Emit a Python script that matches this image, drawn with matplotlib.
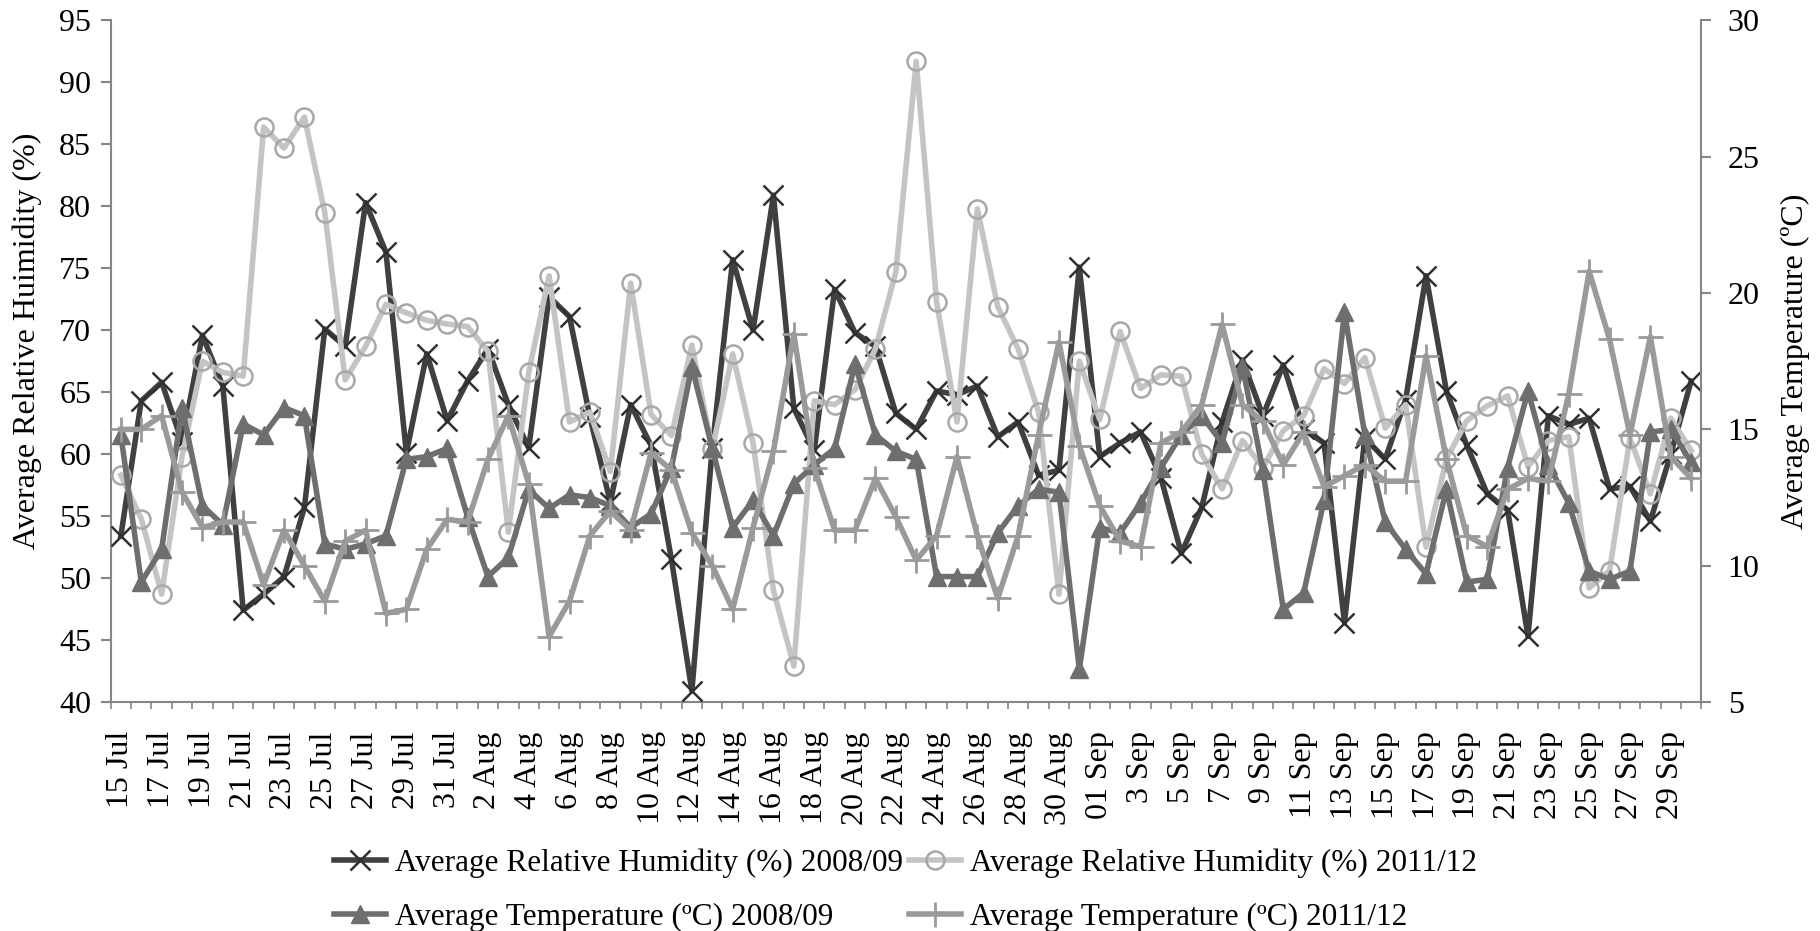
"""
Daily average relative humidity and temperature, 2008/09 vs 2011/12.
"""
import matplotlib
matplotlib.use("Agg")
import matplotlib.pyplot as plt
import numpy as np

plt.rcParams["font.family"] = ["Liberation Serif", "DejaVu Serif"]
plt.rcParams["font.size"] = 23

# categories: 15 Jul .. 30 Sep
days = ([f"{d} Jul" for d in range(15, 32)]
        + [f"{d} Aug" for d in range(1, 32)]
        + ["01 Sep"]
        + [f"{d} Sep" for d in range(2, 31)])

rh_0809 = [53.4, 64.3, 65.8, 61.0, 69.6, 65.5, 47.4, 48.7, 50.1, 55.7,
           70.1, 68.7, 80.3, 76.3, 60.1, 68.1, 62.7, 65.9, 68.5, 64.0,
           60.5, 72.7, 71.1, 63.0, 56.1, 64.0, 60.7, 51.5, 40.9, 60.5,
           75.7, 70.0, 80.9, 63.7, 60.3, 73.3, 69.8, 68.7, 63.3, 62.0,
           65.1, 64.8, 65.5, 61.4, 62.6, 58.3, 58.7, 75.1, 59.8, 60.9,
           61.8, 58.1, 52.0, 55.7, 62.6, 67.6, 63.1, 67.2, 62.0, 60.9,
           46.4, 61.3, 59.6, 64.4, 74.4, 65.1, 60.7, 56.8, 55.5, 45.3,
           63.1, 62.4, 62.9, 57.2, 57.4, 54.6, 60.0, 65.9]

rh_1112 = [58.3, 54.8, 48.7, 59.8, 67.5, 66.6, 66.3, 86.4, 84.7, 87.2,
           79.5, 66.0, 68.7, 72.1, 71.4, 70.8, 70.5, 70.3, 68.3, 53.7,
           66.6, 74.4, 62.6, 63.4, 58.6, 73.8, 63.2, 61.5, 68.8, 60.4,
           68.1, 60.9, 49.0, 42.9, 64.3, 64.0, 65.2, 68.5, 74.7, 91.7,
           72.3, 62.6, 79.8, 71.9, 68.5, 63.4, 48.7, 67.5, 62.8, 69.9,
           65.3, 66.4, 66.3, 60.0, 57.2, 61.1, 58.9, 61.9, 63.1, 66.9,
           65.7, 67.8, 62.1, 64.0, 52.5, 59.6, 62.7, 63.9, 64.7, 59.0,
           61.1, 61.4, 49.2, 50.6, 61.3, 56.8, 62.9, 60.3]

t_0809 = [14.8, 9.4, 10.6, 15.8, 12.2, 11.5, 15.2, 14.8, 15.8, 15.5,
          10.8, 10.6, 10.8, 11.1, 13.9, 14.0, 14.3, 11.8, 9.6, 10.3,
          12.8, 12.1, 12.6, 12.5, 12.2, 11.4, 11.9, 13.6, 17.3, 14.3,
          11.4, 12.4, 11.1, 13.0, 13.7, 14.3, 17.4, 14.8, 14.2, 13.9,
          9.6, 9.6, 9.6, 11.2, 12.2, 12.8, 12.7, 6.2, 11.4, 11.2,
          12.3, 13.6, 14.8, 15.5, 14.5, 17.3, 13.5, 8.4, 9.0, 12.4,
          19.3, 14.8, 11.6, 10.6, 9.7, 12.8, 9.4, 9.5, 13.6, 16.4,
          13.7, 12.3, 9.8, 9.5, 9.8, 14.9, 15.0, 13.8]

t_1112 = [15.0, 15.0, 15.5, 12.7, 11.4, 11.6, 11.6, 9.3, 11.3, 10.0,
          8.7, 10.9, 11.3, 8.25, 8.4, 10.6, 11.7, 11.6, 13.9, 15.5,
          13.0, 7.4, 8.7, 11.1, 12.0, 11.3, 14.15, 13.5, 11.2, 10.0,
          8.4, 11.4, 14.2, 18.5, 13.6, 11.3, 11.3, 13.2, 11.8, 10.2,
          11.1, 14.0, 11.1, 8.8, 11.1, 14.8, 18.2, 14.4, 12.2, 10.9,
          10.7, 14.5, 14.9, 15.9, 18.85, 15.9, 15.3, 13.7, 14.9, 12.9,
          13.3, 13.7, 13.1, 13.1, 17.7, 13.9, 11.1, 10.7, 12.8, 13.2,
          13.1, 16.3, 20.8, 18.3, 14.8, 18.4, 14.0, 13.2]

AXIS_GREY = "#868686"


def style_axis(ax, pad):
    for side in ("top", "left", "right", "bottom"):
        ax.spines[side].set_visible(False)
    ax.tick_params(axis="y", colors=AXIS_GREY, labelcolor="black",
                   length=7, width=1.5, direction="out", pad=pad)


def main():
    fig = plt.figure(figsize=(18.2, 9.31), dpi=100)
    ax = fig.add_axes([0.0608, 0.246, 0.874, 0.732])
    ax2 = ax.twinx()

    x = np.arange(len(days))

    l1, = ax.plot(x, rh_0809, color="#404040", lw=4, marker="x", ms=15,
                  mec="#303030", mew=1.8, zorder=3)
    l2, = ax.plot(x, rh_1112, color="#c4c4c4", lw=4, marker="o", ms=13,
                  mfc="none", mec="#a8a8a8", mew=1.8, zorder=3)
    l3, = ax2.plot(x, t_0809, color="#6e6e6e", lw=4, marker="^", ms=13,
                   mfc="#6e6e6e", mec="#6e6e6e", zorder=3)
    l4, = ax2.plot(x, t_1112, color="#9a9a9a", lw=4, marker="+", ms=18,
                   mec="#9a9a9a", mew=2, zorder=3)

    ax.set_xlim(-0.5, len(days) - 0.5)
    ax.set_ylim(40, 95)
    ax2.set_ylim(5, 30)
    ax.set_yticks(np.arange(40, 96, 5))
    ax2.set_yticks(np.arange(5, 31, 5))

    style_axis(ax, 7)
    style_axis(ax2, 12)
    ax.spines["left"].set_visible(True)
    ax.spines["bottom"].set_visible(True)
    ax2.spines["right"].set_visible(True)
    for sp in (ax.spines["left"], ax.spines["bottom"], ax2.spines["right"]):
        sp.set_color(AXIS_GREY)
        sp.set_linewidth(1.5)

    # label every second day, tick marks between categories
    ax.set_xticks(x[::2])
    ax.set_xticklabels(days[::2], rotation=90)
    ax.set_xticks(np.arange(-0.5, len(days), 1), minor=True)
    ax.tick_params(axis="x", which="major", length=0, pad=21)
    ax.tick_params(axis="x", which="minor", length=5, width=1.2,
                   color=AXIS_GREY, direction="out")

    ax.set_ylabel("Average Relative Huimidity (%)")
    ax.yaxis.set_label_coords(-0.043, 0.53)
    ax2.set_ylabel("Average Temperature (ºC)")
    ax2.yaxis.set_label_coords(1.05, 0.5)

    fig.legend([l1, l3, l2, l4],
               ["Average Relative Humidity (%) 2008/09",
                "Average Temperature (ºC) 2008/09",
                "Average Relative Humidity (%) 2011/12",
                "Average Temperature (ºC) 2011/12"],
               ncol=2, loc="upper left", bbox_to_anchor=(0.175, 0.105),
               frameon=False, borderpad=0, handlelength=1.65,
               handletextpad=0.3, columnspacing=0.2, labelspacing=0.78,
               fontsize=22.5)

    fig.savefig("out.png", dpi=100)


if __name__ == "__main__":
    main()
